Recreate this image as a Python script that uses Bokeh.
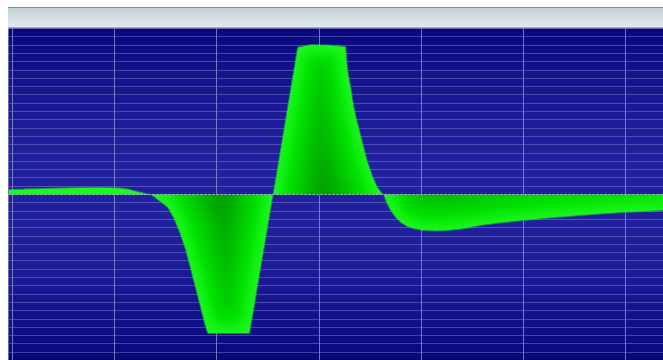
import numpy as np
from bokeh.plotting import figure
from bokeh.models import Range1d, FixedTicker, Span, Div
from bokeh.layouts import column
from bokeh.embed import file_html
from bokeh.resources import INLINE

# ---- data (time in grid divisions, amplitude in grid divisions) ----
time_div = [-0.04, 0.27, 0.67, 0.86, 0.96, 1.06, 1.13, 1.18, 1.23, 1.28, 1.35,
            1.40, 1.45, 1.52, 1.58, 1.64, 1.69, 1.74, 1.79, 1.84, 1.88, 1.91,
            2.32, 2.55, 2.79, 2.92, 3.11, 3.26, 3.28, 3.31, 3.34, 3.37, 3.42,
            3.47, 3.52, 3.57, 3.62, 3.63, 3.66, 3.70, 3.75, 3.80, 3.86, 3.92,
            4.02, 4.14, 4.26, 4.43, 4.58, 4.77, 5.00, 5.26, 5.56, 5.75, 5.98,
            6.19, 6.37]
amp_div = [0.60, 0.72, 0.84, 0.86, 0.84, 0.78, 0.66, 0.50, 0.33, 0.19, 0.00,
           -0.40, -0.90, -1.57, -2.89, -4.70, -6.51, -8.80, -11.20, -13.61,
           -15.54, -16.75, -16.75, 0.00, 17.75, 18.07, 18.01, 17.83, 14.94,
           12.93, 10.52, 8.92, 6.51, 4.10, 2.29, 0.88, 0.08, 0.00, -0.96,
           -1.93, -2.77, -3.37, -3.86, -4.10, -4.34, -4.40, -4.34, -4.10,
           -3.73, -3.43, -3.13, -2.83, -2.53, -2.35, -2.17, -2.05, -1.93]
x_ticks = [0, 1, 2, 3, 4, 5, 6]
y_ticks = list(range(-20, 21))

X0, X1 = -0.039, 6.370
Y0, Y1 = -20.0, 20.0
W, H = 655, 332   # plot frame size in px
LM = 8            # white strip on the left

p = figure(width=W + LM, height=H, x_range=Range1d(X0, X1), y_range=Range1d(Y0, Y1),
           output_backend="svg", toolbar_location=None, min_border=0,
           min_border_left=LM)
p.xaxis.visible = False
p.yaxis.visible = False
p.outline_line_color = None
p.background_fill_color = "#10108a"
p.border_fill_color = "white"

# background vertical gradient
tt = (np.arange(H) + 0.5) / H
k = np.sin(np.pi * np.clip(tt * 0.95 + 0.03, 0, 1)) ** 0.9
dark = np.array([4, 4, 122.0])
light = np.array([34, 34, 158.0])
cols = dark[None, :] + (light - dark)[None, :] * k[:, None]
bg = np.zeros((H, 1, 4), dtype=np.uint8)
bg[:, 0, :3] = cols.astype(np.uint8)
bg[:, 0, 3] = 255
bg32 = np.ascontiguousarray(np.flipud(bg)).view(np.uint32).reshape(H, 1)
p.image_rgba(image=[bg32], x=X0, y=Y0, dw=X1 - X0, dh=Y1 - Y0, level="image")

# grids
p.xgrid.ticker = FixedTicker(ticks=x_ticks)
p.ygrid.ticker = FixedTicker(ticks=y_ticks)
p.xgrid.grid_line_color = "#a0a0dc"
p.xgrid.grid_line_alpha = 0.7
p.ygrid.grid_line_color = "#8a8ad4"
p.ygrid.grid_line_alpha = 0.45

# waveform fill with glow-like shading
t = np.array(time_div)
a = np.array(amp_div)
cx = (t - X0) / (X1 - X0) * W
cy = (Y1 - a) / (Y1 - Y0) * H
segs = []
for i in range(len(cx) - 1):
    L = np.hypot(cx[i + 1] - cx[i], cy[i + 1] - cy[i])
    n = max(2, int(np.ceil(L / 0.5)))
    s = np.linspace(0, 1, n, endpoint=False)
    segs.append(np.stack([cx[i] + (cx[i + 1] - cx[i]) * s,
                          cy[i] + (cy[i + 1] - cy[i]) * s], 1))
segs.append(np.array([[cx[-1], cy[-1]]]))
P = np.vstack(segs).astype(np.float32)

pxc = np.arange(W) + 0.5
pyc = np.arange(H) + 0.5
vpy = np.interp(pxc, cx, cy)
py0 = (Y1 - 0.0) / (Y1 - Y0) * H
lo = np.minimum(vpy, py0)
hi = np.maximum(vpy, py0)
lo_w = lo.copy()
hi_w = hi.copy()
for sh in range(1, 4):
    lo_w[sh:] = np.minimum(lo_w[sh:], lo[:-sh]); lo_w[:-sh] = np.minimum(lo_w[:-sh], lo[sh:])
    hi_w[sh:] = np.maximum(hi_w[sh:], hi[:-sh]); hi_w[:-sh] = np.maximum(hi_w[:-sh], hi[sh:])
YY, XX = np.meshgrid(pyc, pxc, indexing="ij")
inside = (YY >= lo[None, :]) & (YY <= hi[None, :])
cand = (YY >= lo_w[None, :] - 3) & (YY <= hi_w[None, :] + 3)
ci = np.nonzero(cand.ravel())[0]
qx = XX.ravel()[ci].astype(np.float32)
qy = YY.ravel()[ci].astype(np.float32)
dist = np.empty(len(ci), dtype=np.float32)
step = 1500
for s0 in range(0, len(ci), step):
    dx = qx[s0:s0 + step, None] - P[None, :, 0]
    dy = qy[s0:s0 + step, None] - P[None, :, 1]
    dist[s0:s0 + step] = np.sqrt((dx * dx + dy * dy).min(axis=1))

D = np.zeros(H * W, dtype=np.float64)
D[ci] = dist
D = D.reshape(H, W)
INS = inside.astype(np.float64)


def box(arr, r, axis):
    pad = [(0, 0), (0, 0)]
    pad[axis] = (r, r)
    ap = np.pad(arr, pad)
    c = np.cumsum(ap, axis=axis)
    zshape = list(c.shape)
    zshape[axis] = 1
    c = np.concatenate([np.zeros(zshape), c], axis=axis)
    n = arr.shape[axis]
    if axis == 1:
        return c[:, 2 * r + 1:2 * r + 1 + n] - c[:, :n]
    return c[2 * r + 1:2 * r + 1 + n, :] - c[:n, :]


num = D * INS
den = INS.copy()
for _ in range(2):
    for ax in (0, 1):
        num = box(num, 6, ax)
        den = box(den, 6, ax)
Ds = np.where(den > 1e-6, num / np.maximum(den, 1e-6), 0)
# keep the very edge crisp and bright
Dsm = np.minimum(Ds, D + 6.0)
Dsm = Dsm.ravel()[ci]

ins = inside.ravel()[ci]
alpha = np.where(ins, np.clip(0.5 + dist, 0, 1), np.clip(0.5 - dist, 0, 1))
g = np.where(ins, np.clip(255 - 2.0 * Dsm, 150, 255), 255)
rb = np.where(ins, 38 * np.clip(1 - Dsm / 14.0, 0, 1), 38)
rgba = np.zeros((H * W, 4), dtype=np.uint8)
rgba[ci, 0] = rb.astype(np.uint8)
rgba[ci, 1] = g.astype(np.uint8)
rgba[ci, 2] = rb.astype(np.uint8)
rgba[ci, 3] = (alpha * 255).astype(np.uint8)
rgba = rgba.reshape(H, W, 4)
img32 = np.ascontiguousarray(np.flipud(rgba)).view(np.uint32).reshape(H, W)
p.image_rgba(image=[img32], x=X0, y=Y0, dw=X1 - X0, dh=Y1 - Y0)

# baseline
p.add_layout(Span(location=0, dimension="width", line_color="#b8d0c0",
                  line_alpha=0.85, line_width=1, line_dash="2 2"))

top = Div(text="", width=W, height=21, margin=(7, 0, 0, LM),
          styles={"background": "linear-gradient(#c3cfd7, #e3e9ed)",
                  "border-top": "1px solid #858d93",
                  "border-bottom": "1px solid #a2abb1",
                  "box-sizing": "border-box"})
layout = column(top, p, spacing=0)
open("out.html", "w").write(file_html(layout, INLINE))
